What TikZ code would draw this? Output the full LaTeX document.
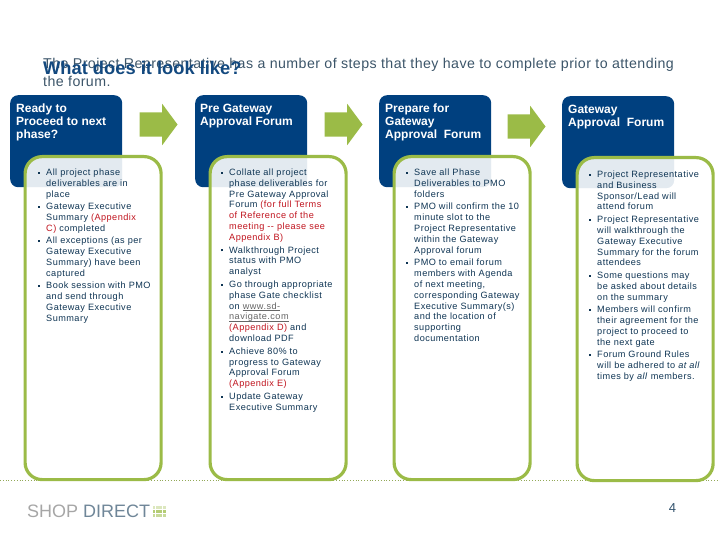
\documentclass[tikz,border=0pt]{standalone}
\usepackage{fontspec}
\setmainfont{Liberation Sans}
\newfontfamily\bodyfont[LetterSpace=5]{Liberation Sans}
\newfontfamily\introfont[LetterSpace=3]{Liberation Sans}
\usetikzlibrary{shapes.arrows}
\definecolor{gatenavy}{RGB}{0,64,127}
\definecolor{gatetext}{RGB}{15,53,84}
\definecolor{gatered}{RGB}{192,20,30}
\definecolor{gategreen}{RGB}{155,187,71}
\definecolor{gateintro}{RGB}{60,85,105}
\newcommand{\bul}{\llap{\raisebox{1.6pt}{\rule{2pt}{2pt}}\hspace{6pt}}\rule{0pt}{8pt}}
\newcommand{\appx}[1]{\textcolor{gatered}{#1}}
\newcommand{\weblink}[1]{\textcolor{gray!80!black}{\setbox0\hbox{#1}\rlap{\rule[-1.3pt]{\wd0}{0.6pt}}#1}}
\tikzset{
    headbox/.style={anchor=north west,fill=gatenavy,rounded corners=8pt,minimum width=112pt,minimum height=92pt,inner sep=0pt},
    headtext/.style={anchor=north west,align=left,inner sep=0pt,text=white,font=\fontsize{12}{13}\selectfont\bfseries},
    panelbox/.style={anchor=north west,draw=gategreen,line width=3.2pt,fill=white,fill opacity=0.89,draw opacity=1,rounded corners=17pt,minimum width=136pt,minimum height=323pt,inner sep=0pt},
    paneltext/.style={anchor=north west,align=left,inner sep=0pt,text=gatetext,font=\bodyfont\fontsize{9.15}{10.9}\selectfont},
    stepflow/.style={single arrow,fill=gategreen,minimum height=38pt,minimum width=41pt,single arrow head extend=8.5pt,single arrow tip angle=107,inner xsep=0pt,inner ysep=12pt,outer sep=0pt}
}
\begin{document}
\begin{tikzpicture}[x=1pt,y=-1pt]
        \useasboundingbox (0,0) rectangle (720,540);
        \coordinate (ruleL) at (0,480);
        \coordinate (ruleR) at (720,480);
        \draw[gategreen!70!gray,line width=0.8pt,dash pattern=on 0.8pt off 2pt] (ruleL) -- (ruleR);

        \node[anchor=north west,inner sep=0pt,text=gateintro,align=left,font=\introfont\fontsize{14.2}{18}\selectfont] (intro) at (43,58) {The Project Representative has a number of steps that they have to complete prior to attending\\the forum.};
        \node[anchor=north west,inner sep=0pt,text=gatenavy!85!gray,font=\fontsize{18.3}{20}\selectfont\bfseries] (title) at (43,61.5) {What does it look like?};

        \node[headbox] (box1) at (10,95) {};
        \node[headbox] (box2) at (195,95) {};
        \node[headbox] (box3) at (379,95) {};
        \node[headbox] (box4) at (562,96) {};
        \node[headtext] (head1) at (16,104) {Ready to\\Proceed to next\\phase?};
        \node[headtext] (head2) at (200,104) {Pre Gateway\\Approval Forum};
        \node[headtext] (head3) at (385,104) {Prepare for\\Gateway\\Approval\ \ Forum};
        \node[headtext] (head4) at (568,105) {Gateway\\Approval\ \ Forum};

        \node[stepflow] (flow1) at (154,124.5) {};
        \node[stepflow] (flow2) at (339,124.5) {};
        \node[stepflow] (flow3) at (522,126.5) {};

        \node[panelbox] (panel1) at (23.5,155) {};
        \node[panelbox] (panel2) at (208.5,155) {};
        \node[panelbox] (panel3) at (392.5,155) {};
        \node[panelbox] (panel4) at (575.5,156) {};

        \node[paneltext] (items1) at (46,167) {\bul All project phase\\deliverables are in\\place\\[1.5pt]
            \bul Gateway Executive\\Summary \appx{(Appendix}\\\appx{C)} completed\\[1.5pt]
            \bul All exceptions (as per\\Gateway Executive\\Summary) have been\\captured\\[1.5pt]
            \bul Book session with PMO\\and send through\\Gateway Executive\\Summary};
        \node[paneltext] (items2) at (229,167) {\bul Collate all project\\phase deliverables for\\Pre Gateway Approval\\Forum \appx{(for full Terms}\\\appx{of Reference of the}\\\appx{meeting -- please see}\\\appx{Appendix B)}\\[1.5pt]
            \bul Walkthrough Project\\status with PMO\\analyst\\[1.5pt]
            \bul Go through appropriate\\phase Gate checklist\\on \weblink{www.sd-}\\\weblink{navigate.com}\\\appx{(Appendix D)} and\\download PDF\\[1.5pt]
            \bul Achieve 80\% to\\progress to Gateway\\Approval Forum\\\appx{(Appendix E)}\\[1.5pt]
            \bul Update Gateway\\Executive Summary};
        \node[paneltext] (items3) at (414,167) {\bul Save all Phase\\Deliverables to PMO\\folders\\[1.5pt]
            \bul PMO will confirm the 10\\minute slot to the\\Project Representative\\within the Gateway\\Approval forum\\[1.5pt]
            \bul PMO to email forum\\members with Agenda\\of next meeting,\\corresponding Gateway\\Executive Summary(s)\\and the location of\\supporting\\documentation};
        \node[paneltext] (items4) at (597,169) {\bul Project Representative\\and Business\\Sponsor/Lead will\\attend forum\\[1.5pt]
            \bul Project Representative\\will walkthrough the\\Gateway Executive\\Summary for the forum\\attendees\\[1.5pt]
            \bul Some questions may\\be asked about details\\on the summary\\[1.5pt]
            \bul Members will confirm\\their agreement for the\\project to proceed to\\the next gate\\[1.5pt]
            \bul Forum Ground Rules\\will be adhered to \textit{at all}\\times by \textit{all} members.};

        \node[anchor=west,inner sep=0pt,font=\fontsize{18}{18}\selectfont] (logo) at (27,511.5) {\textcolor{gray!70}{SHOP} \textcolor{gatetext!60}{DIRECT}};
        \foreach \col in {0,1,2,3}
            \foreach \row/\shade in {0/35,1/75,2/55}
                \fill[gategreen!\shade!white] (152.5+3.4*\col,506+3.9*\row) rectangle +(2.8,3);
        \node[inner sep=0pt,text=gatetext!85,font=\fontsize{13}{14}\selectfont] (pagenum) at (672.5,508) {4};
    \end{tikzpicture}
\end{document}
